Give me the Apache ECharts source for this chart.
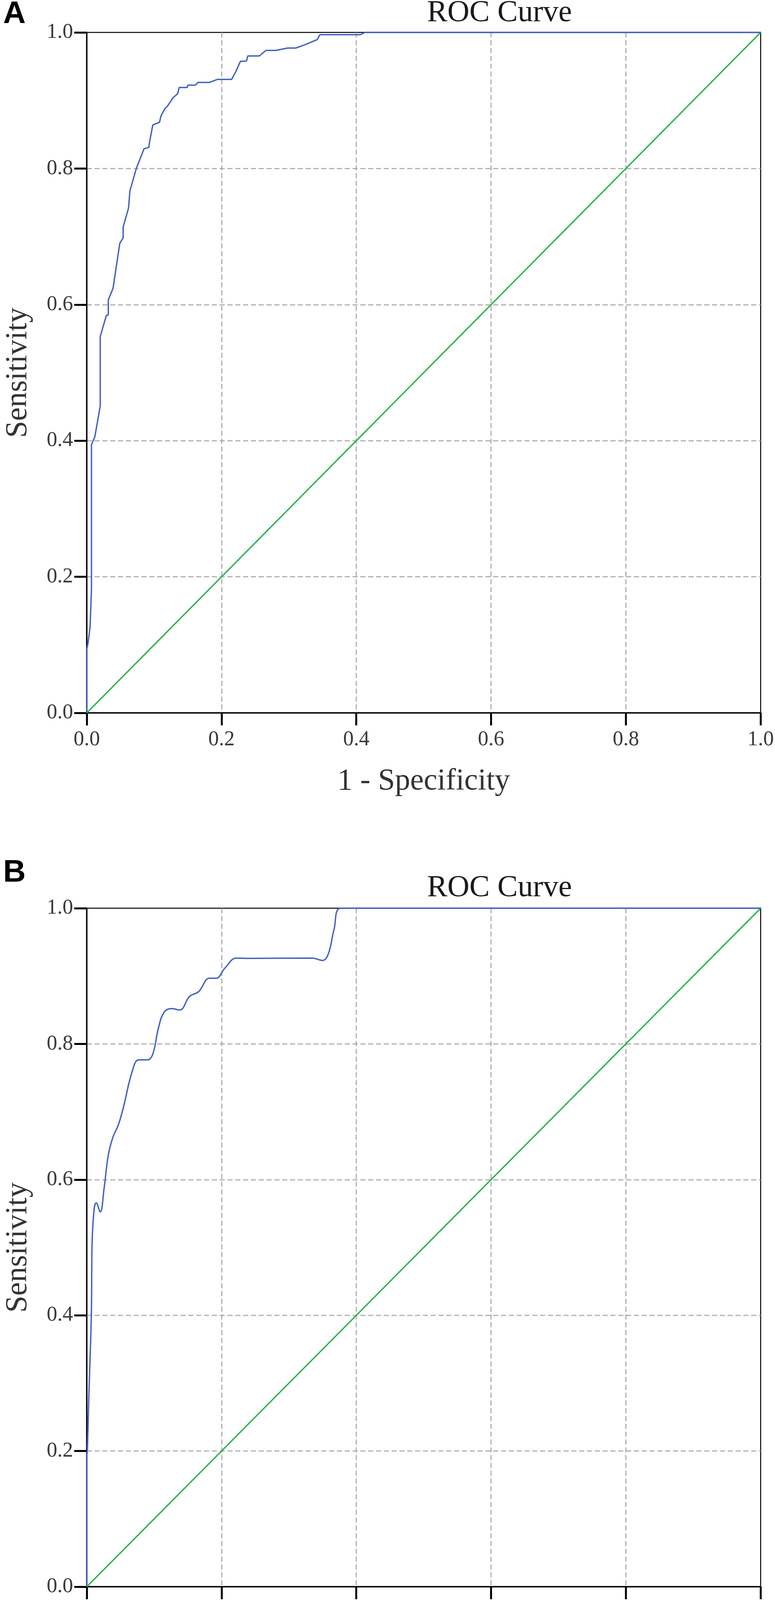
<!DOCTYPE html>
<html lang="en">
<head>
<meta charset="UTF-8">
<title>ROC Curve</title>
<script src="https://cdn.jsdelivr.net/npm/echarts@6/dist/echarts.min.js"></script>
<style>
	html, body { margin: 0; padding: 0; background: #fff; }
	#main { width: 1983px; height: 4278px; }
</style>
</head>
<body>
<div id="main"></div>
<script>
	// panel A: step-like empirical ROC
	const fprA = [0, 0, 0.002, 0.005, 0.007, 0.007, 0.007, 0.012, 0.020, 0.020,
		0.029, 0.032, 0.032, 0.039, 0.049, 0.054, 0.054, 0.062, 0.064, 0.0735,
		0.085, 0.092, 0.093, 0.098, 0.108, 0.110, 0.116, 0.120, 0.128, 0.135,
		0.137, 0.149, 0.150, 0.161, 0.165, 0.182, 0.194, 0.215, 0.221, 0.228,
		0.237, 0.239, 0.256, 0.266, 0.281, 0.298, 0.310, 0.324, 0.342, 0.346,
		0.406, 0.413, 1.0];
	const tprA = [0, 0.093, 0.103, 0.127, 0.183, 0.2, 0.394, 0.406, 0.451, 0.553,
		0.584, 0.585, 0.607, 0.624, 0.690, 0.698, 0.714, 0.742, 0.767, 0.800,
		0.829, 0.831, 0.838, 0.864, 0.868, 0.877, 0.888, 0.892, 0.904, 0.910,
		0.919, 0.919, 0.9225, 0.9225, 0.9265, 0.9265, 0.931, 0.931, 0.942, 0.9575,
		0.958, 0.9654, 0.9654, 0.9736, 0.9736, 0.977, 0.977, 0.982, 0.9895, 0.9967,
		0.9967, 1.0, 1.0];

	// panel B: smoothed ROC
	const fprB = [0, 0, 0.001, 0.003, 0.0068, 0.008, 0.011, 0.014, 0.020, 0.0257,
		0.032, 0.039, 0.047, 0.055, 0.067, 0.077, 0.090, 0.098, 0.1065, 0.115,
		0.126, 0.138, 0.1526, 0.166, 0.182, 0.192, 0.205, 0.222, 0.238, 0.334,
		0.350, 0.3586, 0.367, 0.377, 1.0];
	const tprB = [0, 0.19, 0.204, 0.278, 0.402, 0.5086, 0.557, 0.5656, 0.5524, 0.587,
		0.6365, 0.663, 0.681, 0.709, 0.758, 0.7765, 0.7765, 0.785, 0.824, 0.847,
		0.852, 0.850, 0.870, 0.877, 0.8968, 0.8968, 0.9117, 0.9265, 0.926, 0.9265,
		0.923, 0.933, 0.969, 1.0, 1.0];

	// reference line
	const refX = [0, 1];
	const refY = [0, 1];

	const panelLabels = ["A", "B"];
	const titleText = "ROC Curve";
	const xName = "1 - Specificity";
	const yName = "Sensitivity";

	const serif = "'Liberation Serif', 'Times New Roman', serif";
	const blue = "#4262c4";
	const green = "#2bb34b";

	function pairs(xs, ys) {
		return xs.map((x, i) => [x, ys[i]]);
	}

	function makeAxis(dim, gridIndex) {
		let isX = dim === "x";
		return {
			type: "value",
			gridIndex: gridIndex,
			min: 0,
			max: 1,
			interval: 0.2,
			name: isX ? xName : yName,
			nameLocation: "middle",
			nameGap: isX ? 137 : 136,
			nameTextStyle: {
				fontFamily: serif,
				fontSize: 78,
				color: "#333"
			},
			axisLine: {
				show: true,
				lineStyle: { color: "#000", width: 3.5 }
			},
			axisTick: {
				show: true,
				inside: false,
				length: 32,
				lineStyle: { color: "#000", width: 5 }
			},
			axisLabel: {
				show: true,
				margin: isX ? 42 : 35,
				padding: isX ? 0 : [26, 0, 0, 0],
				fontFamily: serif,
				fontSize: 54,
				color: "#3a3a3a",
				showMinLabel: true,
				showMaxLabel: true,
				formatter: (v) => v.toFixed(1)
			},
			splitLine: {
				show: true,
				showMinLine: false,
				showMaxLine: false,
				lineStyle: { color: "#a3a3a3", width: 2.5, type: [13, 7] }
			}
		};
	}

	function lineSeries(data, gridIndex, color, smooth) {
		return {
			type: "line",
			xAxisIndex: gridIndex,
			yAxisIndex: gridIndex,
			data: data,
			symbol: "none",
			showSymbol: false,
			smooth: smooth,
			clip: false,
			animation: false,
			lineStyle: { color: color, width: 3.5 }
		};
	}

	let grids = [
		{ left: 205, top: 83, width: 1742, height: 1742 },
		{ left: 205, top: 2325, width: 1742, height: 1741 }
	].map(g => Object.assign(g, {
		show: true,
		borderColor: "#000",
		borderWidth: 2.5,
		backgroundColor: "transparent"
	}));

	let titleY = [34, 2274];
	let labelY = [37, 2235];
	let graphics = [];
	for (let i = 0; i < 2; i++) {
		graphics.push({
			type: "text",
			x: 1278,
			y: titleY[i],
			style: {
				text: titleText,
				font: "78px " + serif,
				fill: "#1a1a1a",
				align: "center",
				verticalAlign: "middle"
			}
		});
		graphics.push({
			type: "text",
			x: 8,
			y: labelY[i],
			style: {
				text: panelLabels[i],
				font: "bold 80px 'Liberation Sans', Arial, sans-serif",
				fill: "#000",
				align: "left",
				verticalAlign: "middle"
			}
		});
	}

	let option = {
		backgroundColor: "#fff",
		animation: false,
		grid: grids,
		xAxis: [makeAxis("x", 0), makeAxis("x", 1)],
		yAxis: [makeAxis("y", 0), makeAxis("y", 1)],
		graphic: graphics,
		series: [
			lineSeries(pairs(refX, refY), 0, green, false),
			lineSeries(pairs(fprA, tprA), 0, blue, false),
			lineSeries(pairs(refX, refY), 1, green, false),
			lineSeries(pairs(fprB, tprB), 1, blue, 0.4)
		]
	};

	let chart = echarts.init(document.getElementById("main"));
	chart.setOption(option);
</script>
</body>
</html>
